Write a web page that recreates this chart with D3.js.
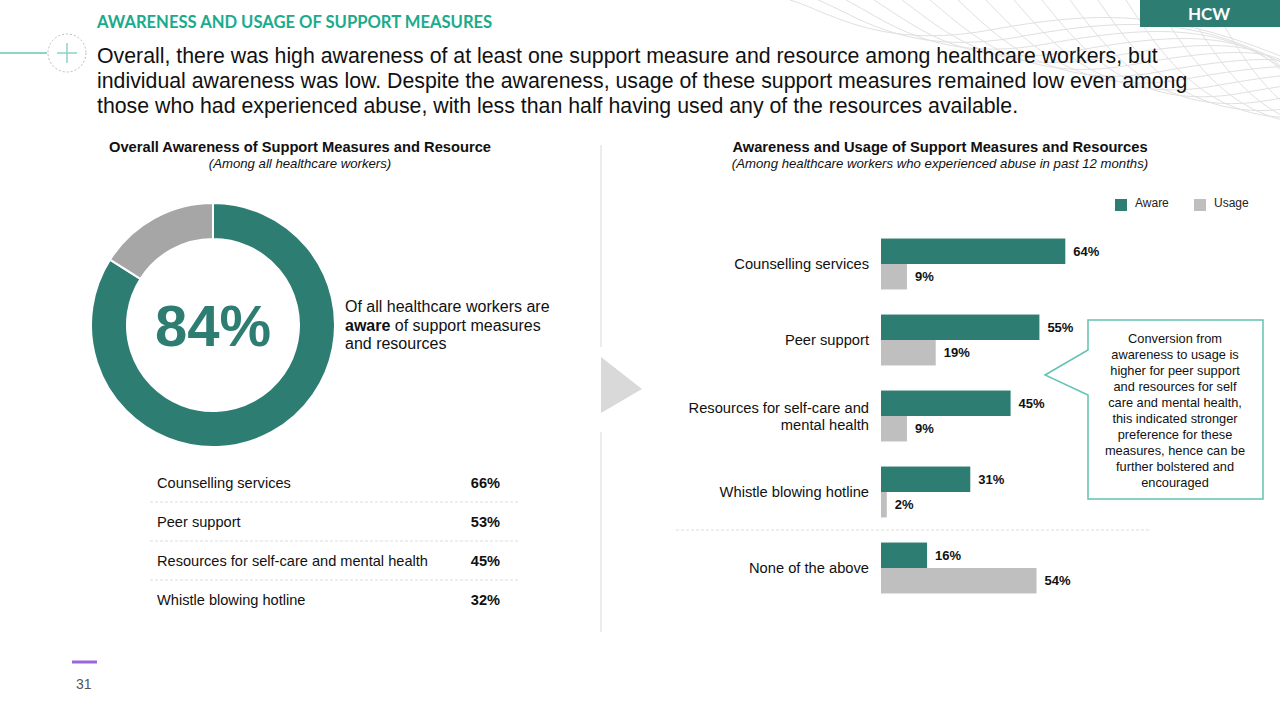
<!DOCTYPE html>
<html>
<head>
<meta charset="utf-8">
<script src="https://cdn.jsdelivr.net/npm/d3@7"></script>
<style>
  html, body { margin: 0; padding: 0; background: #fff; }
  svg { display: block; font-family: 'Liberation Sans', Arial, sans-serif; }
</style>
</head>
<body>
<svg id="mainsvg" width="1280" height="720"></svg>
<script>
// ---- data ----
const donutLabels = ['Aware', 'Not aware'];
const donutValues = [84, 16];

const tableItems = ['Counselling services', 'Peer support', 'Resources for self-care and mental health', 'Whistle blowing hotline'];
const tableValues = [66, 53, 45, 32];

const barCategories = ['Counselling services', 'Peer support', 'Resources for self-care and mental health', 'Whistle blowing hotline', 'None of the above'];
const awareValues = [64, 55, 45, 31, 16];
const usageValues = [9, 19, 9, 2, 54];
const seriesNames = ['Aware', 'Usage'];

const calloutLines = ['Conversion from', 'awareness to usage is', 'higher for peer support', 'and resources for self',
  'care and mental health,', 'this indicated stronger', 'preference for these', 'measures, hence can be',
  'further bolstered and', 'encouraged'];

const teal = '#2e7d72';
const grey = '#bfbfbf';
const color = { 'Aware': teal, 'Usage': grey };

const svg = d3.select('#mainsvg');

// ---- decorative waves top right ----
const deco = svg.append('g').attr('fill', 'none').attr('stroke', '#e0e0e0').attr('stroke-width', 1);
for (let i = 0; i < 16; i++) {
  const x0 = 790 + i * 28;
  const y1 = 20 + i * 7;
  deco.append('path')
    .attr('d', `M${x0},0 C${x0 + 40},${y1 * 0.6} ${x0 + 90},${y1 + 30} ${x0 + 200},${y1 + 10} S${x0 + 380},${y1 - 10} 1290,${y1 + 40}`);
}

// ---- header ----
svg.append('rect').attr('x', 1140).attr('y', 0).attr('width', 140).attr('height', 27).attr('fill', teal);
svg.append('text').text('HCW').attr('x', 1209).attr('y', 20)
  .attr('text-anchor', 'middle').attr('fill', '#fff')
  .style('font-family', 'Lato, sans-serif').style('font-weight', 'bold').style('font-size', '17px');

svg.append('text').text('AWARENESS AND USAGE OF SUPPORT MEASURES')
  .attr('x', 97).attr('y', 28).attr('fill', '#1aab8c')
  .style('font-family', 'Lato, sans-serif').style('font-weight', 'bold').style('font-size', '16.6px');

svg.append('line').attr('x1', 0).attr('x2', 47).attr('y1', 53).attr('y2', 53)
  .attr('stroke', '#8ed4c8').attr('stroke-width', 2);
svg.append('circle').attr('cx', 67).attr('cy', 53).attr('r', 19)
  .attr('fill', 'none').attr('stroke', '#bbb').attr('stroke-dasharray', '2,2');
svg.append('path').attr('d', 'M57,53 H77 M67,43 V63').attr('stroke', '#8ed4c8').attr('stroke-width', 1.5);

const para = ['Overall, there was high awareness of at least one support measure and resource among healthcare workers, but',
  'individual awareness was low. Despite the awareness, usage of these support measures remained low even among',
  'those who had experienced abuse, with less than half having used any of the resources available.'];
svg.append('g').selectAll('text').data(para).join('text')
  .text(d => d)
  .attr('x', 97).attr('y', (d, i) => 63 + i * 25)
  .attr('fill', '#111').style('font-size', '21.3px');

// ---- page number ----
svg.append('line').attr('x1', 72).attr('x2', 97).attr('y1', 662).attr('y2', 662)
  .attr('stroke', '#9966dd').attr('stroke-width', 3);
svg.append('text').text('31').attr('x', 76).attr('y', 689).attr('fill', '#555').style('font-size', '14px');

// ---- divider + arrow ----
svg.append('path').attr('d', 'M601,145 V347 M601,432 V632').attr('stroke', '#d9d9d9').attr('stroke-width', 1);
svg.append('path').attr('d', 'M601,357 L642,389 L601,413 Z').attr('fill', '#d9d9d9');

// ---- left panel: donut ----
const left = svg.append('g');
left.append('text').text('Overall Awareness of Support Measures and Resource')
  .attr('x', 300).attr('y', 152).attr('text-anchor', 'middle')
  .style('font-weight', 'bold').style('font-size', '14.7px').attr('fill', '#111');
left.append('text').text('(Among all healthcare workers)')
  .attr('x', 300).attr('y', 168).attr('text-anchor', 'middle')
  .style('font-style', 'italic').style('font-size', '13.2px').attr('fill', '#111');

const pie = d3.pie().sort(null).value(d => d)(donutValues);
const arc = d3.arc().innerRadius(86).outerRadius(122);
const donut = left.append('g').attr('transform', 'translate(213, 325)');
donut.selectAll('path').data(pie).join('path')
  .attr('d', arc)
  .attr('fill', (d, i) => i === 0 ? teal : '#a6a6a6')
  .attr('stroke', '#fff').attr('stroke-width', 2);
donut.append('text').text(donutValues[0] + '%')
  .attr('text-anchor', 'middle').attr('y', 21).attr('fill', teal)
  .style('font-weight', 'bold').style('font-size', '58px');

const desc = left.append('text').attr('x', 345).attr('y', 312).style('font-size', '16px').attr('fill', '#111');
desc.append('tspan').text('Of all healthcare workers are');
desc.append('tspan').attr('x', 345).attr('dy', 18.5).style('font-weight', 'bold').text('aware');
desc.append('tspan').text(' of support measures');
desc.append('tspan').attr('x', 345).attr('dy', 18.5).text('and resources');

// ---- left panel: table ----
const rowScale = d3.scaleBand().domain(tableItems).range([463, 619]);
const rows = left.append('g');
rows.selectAll('.lbl').data(tableItems).join('text').attr('class', 'lbl')
  .text(d => d).attr('x', 157).attr('y', d => rowScale(d) + rowScale.bandwidth() / 2 + 5)
  .style('font-size', '14.6px').attr('fill', '#111');
rows.selectAll('.val').data(tableValues).join('text').attr('class', 'val')
  .text(d => d + '%').attr('x', 500).attr('text-anchor', 'end')
  .attr('y', (d, i) => rowScale(tableItems[i]) + rowScale.bandwidth() / 2 + 5)
  .style('font-size', '14.6px').style('font-weight', 'bold').attr('fill', '#111');
rows.selectAll('line').data(tableItems.slice(0, -1)).join('line')
  .attr('x1', 150).attr('x2', 520)
  .attr('y1', d => rowScale(d) + rowScale.bandwidth()).attr('y2', d => rowScale(d) + rowScale.bandwidth())
  .attr('stroke', '#ddd').attr('stroke-dasharray', '3,2');

// ---- right panel: bars ----
const right = svg.append('g');
right.append('text').text('Awareness and Usage of Support Measures and Resources')
  .attr('x', 940).attr('y', 152).attr('text-anchor', 'middle')
  .style('font-weight', 'bold').style('font-size', '14.7px').attr('fill', '#111');
right.append('text').text('(Among healthcare workers who experienced abuse in past 12 months)')
  .attr('x', 940).attr('y', 168).attr('text-anchor', 'middle')
  .style('font-style', 'italic').style('font-size', '13.2px').attr('fill', '#111');

// legend
const legend = right.append('g').attr('transform', 'translate(1115, 198)');
const legX = d3.scaleOrdinal().domain(seriesNames).range([0, 79]);
legend.selectAll('rect').data(seriesNames).join('rect')
  .attr('x', d => legX(d)).attr('y', 1).attr('width', 12).attr('height', 12).attr('fill', d => color[d]);
legend.selectAll('text').data(seriesNames).join('text')
  .text(d => d).attr('x', d => legX(d) + 20).attr('y', 9)
  .style('font-size', '12px').attr('fill', '#222');

const xScale = d3.scaleLinear().domain([0, 100]).range([881, 1169]);
const yScale = d3.scaleBand().domain(barCategories).range([226, 606]).paddingInner(0.33).paddingOuter(0.165);
const subScale = d3.scaleBand().domain(seriesNames).range([0, yScale.bandwidth()]);

const barData = barCategories.flatMap((c, i) => [
  { cat: c, series: 'Aware', value: awareValues[i] },
  { cat: c, series: 'Usage', value: usageValues[i] }
]);

right.selectAll('.bar').data(barData).join('rect').attr('class', 'bar')
  .attr('x', xScale(0))
  .attr('y', d => yScale(d.cat) + subScale(d.series))
  .attr('width', d => xScale(d.value) - xScale(0))
  .attr('height', subScale.bandwidth())
  .attr('fill', d => color[d.series]);

right.selectAll('.blbl').data(barData).join('text').attr('class', 'blbl')
  .text(d => d.value + '%')
  .attr('x', d => xScale(d.value) + 8)
  .attr('y', d => yScale(d.cat) + subScale(d.series) + subScale.bandwidth() / 2 + 1)
  .attr('dominant-baseline', 'middle')
  .style('font-size', '13px').style('font-weight', 'bold').attr('fill', '#111');

// category labels (wrapped)
const wrap = s => {
  const words = s.split(' ');
  const lines = [''];
  words.forEach(w => {
    const cur = lines[lines.length - 1];
    if ((cur + ' ' + w).trim().length > 27) lines.push(w);
    else lines[lines.length - 1] = (cur + ' ' + w).trim();
  });
  return lines;
};
const catLbl = right.selectAll('.cat').data(barCategories).join('text').attr('class', 'cat')
  .attr('text-anchor', 'end').style('font-size', '14.7px').attr('fill', '#111');
catLbl.each(function (d) {
  const lines = wrap(d);
  const cy = yScale(d) + yScale.bandwidth() / 2;
  d3.select(this).selectAll('tspan').data(lines).join('tspan')
    .attr('x', 869)
    .attr('y', (l, i) => cy + 5 + (i - (lines.length - 1) / 2) * 17)
    .text(l => l);
});

// separator before "None of the above"
const sepY = (yScale(barCategories[3]) + yScale.bandwidth() + yScale(barCategories[4])) / 2;
right.append('line').attr('x1', 676).attr('x2', 1150).attr('y1', sepY).attr('y2', sepY)
  .attr('stroke', '#ddd').attr('stroke-dasharray', '3,2');

// callout
right.append('path')
  .attr('d', 'M1088,320 H1263 V499 H1088 V395 L1045,375 L1088,350 Z')
  .attr('fill', '#fff').attr('stroke', '#63c2b3').attr('stroke-width', 1.5);
right.append('g').selectAll('text').data(calloutLines).join('text')
  .text(d => d).attr('x', 1175).attr('y', (d, i) => 343 + i * 16)
  .attr('text-anchor', 'middle').style('font-size', '12.8px').attr('fill', '#111');
</script>
</body>
</html>
